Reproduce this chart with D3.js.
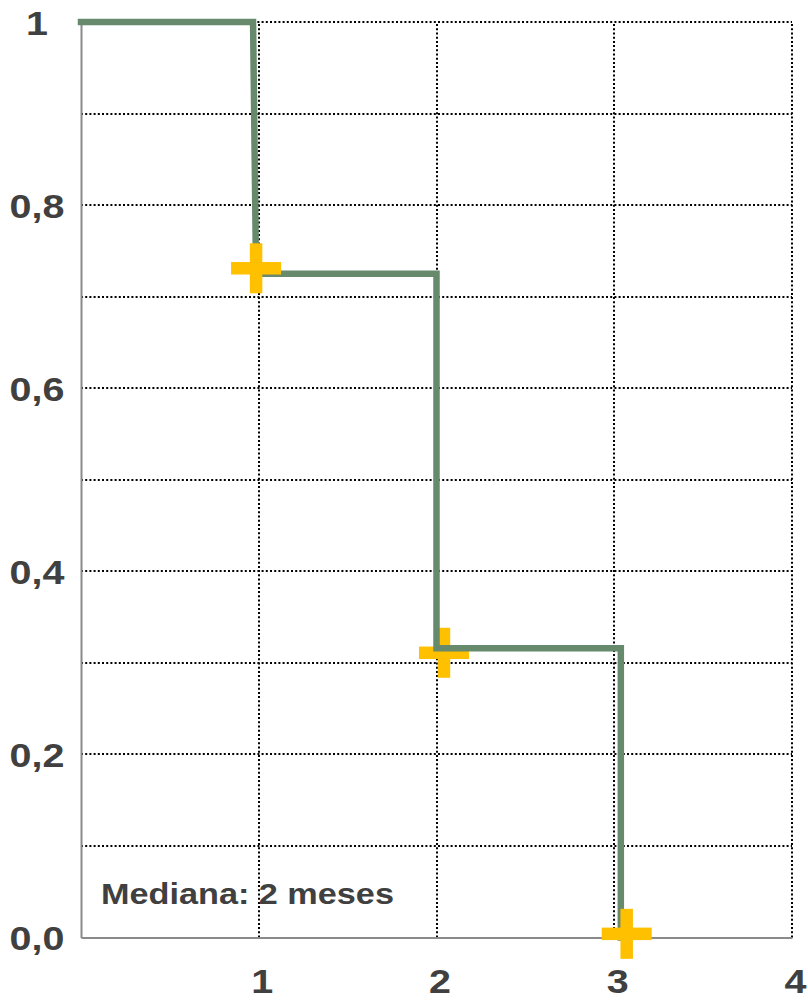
<!DOCTYPE html>
<html>
<head>
<meta charset="utf-8">
<script src="https://cdn.jsdelivr.net/npm/d3@7"></script>
<style>
  html, body { margin: 0; padding: 0; background: #fff; }
  svg { display: block; }
  text { font-family: "Liberation Sans", Arial, Helvetica, sans-serif; font-weight: 700; fill: #404040; }
</style>
</head>
<body>
<svg id="chart" width="808" height="1001"></svg>
<script>
// Kaplan–Meier step curve (time in months, survival probability)
const months   = [0, 0.968, 0.985, 2.0, 2.0, 3.037, 3.037];
const survival = [1, 1, 0.725, 0.725, 0.316, 0.316, 0];

// Censored observations
const censorMonths   = [0.985, 2.042, 3.07];
const censorSurvival = [0.731, 0.311, 0.004];

// Axis ticks and gridlines
const xTicks = [1, 2, 3, 4];
const yTicks = [0, 0.2, 0.4, 0.6, 0.8, 1];
const yTickLabels = ["0,0", "0,2", "0,4", "0,6", "0,8", "1"];
const yGrid = [0.1, 0.2, 0.3, 0.4, 0.5, 0.6, 0.7, 0.8, 0.9, 1.0];

const annotation = "Mediana: 2 meses";

const svg = d3.select("#chart");
const x = d3.scaleLinear().domain([0, 4]).range([81, 792]);
const y = d3.scaleLinear().domain([0, 1]).range([937.5, 22]);

const STRETCH = 1.16;
function widen(sel) {
  sel.each(function () {
    const w = this.getComputedTextLength();
    d3.select(this).attr("textLength", w * STRETCH).attr("lengthAdjust", "spacingAndGlyphs");
  });
}

// dotted grid (snapped to whole pixels so the dots stay crisp)
const grid = svg.append("g").attr("stroke", "#000").attr("stroke-width", 2)
  .attr("stroke-dasharray", "2,2.2");
grid.selectAll("line.h").data(yGrid).join("line").attr("class", "h")
  .attr("x1", x(0)).attr("x2", x(4))
  .attr("y1", d => Math.round(y(d))).attr("y2", d => Math.round(y(d)));
grid.selectAll("line.v").data(xTicks).join("line").attr("class", "v")
  .attr("x1", d => Math.round(x(d))).attr("x2", d => Math.round(x(d)))
  .attr("y1", y(0)).attr("y2", Math.round(y(1)));

// axes
const yAxis = svg.append("g").attr("transform", `translate(${x(0)},0)`)
  .call(d3.axisLeft(y).tickValues(yTicks).tickSize(0).tickSizeOuter(0)
    .tickFormat((d, i) => yTickLabels[i]));
const xAxis = svg.append("g").attr("transform", `translate(0,${y(0)})`)
  .call(d3.axisBottom(x).tickValues(xTicks).tickSize(0).tickSizeOuter(0)
    .tickFormat(d => String(d)));
[yAxis, xAxis].forEach(a => {
  a.select(".domain").attr("stroke", "#8a8a8a").attr("stroke-width", 2);
  a.selectAll("text").attr("font-size", 34).attr("fill", "#404040")
    .attr("font-family", null);
});
yAxis.selectAll("text").attr("text-anchor", "middle").attr("x", -44).attr("dy", "0.36em");
xAxis.selectAll("text").attr("y", 31).attr("dx", 3);
widen(yAxis.selectAll("text"));
widen(xAxis.selectAll("text"));

// censor marks drawn beneath the curve
const underCurve = new Set([1]);
const censor = d3.range(censorMonths.length).map(i => ({ t: censorMonths[i], s: censorSurvival[i], i }));
function drawCross(g, data) {
  const span = 50, th = 12.5;
  const m = g.selectAll("g").data(data).join("g")
    .attr("transform", d => `translate(${x(d.t)},${y(d.s)})`).attr("fill", "#FFC000");
  m.append("rect").attr("x", -span / 2).attr("y", -th / 2).attr("width", span).attr("height", th);
  m.append("rect").attr("x", -th / 2).attr("y", -span / 2).attr("width", th).attr("height", span);
}
drawCross(svg.append("g"), censor.filter(d => underCurve.has(d.i)));

// survival curve
const pts = months.map((t, i) => [t, survival[i]]);
svg.append("path").datum(pts)
  .attr("d", d3.line().x(d => x(d[0])).y(d => y(d[1])))
  .attr("fill", "none").attr("stroke", "#678a6d").attr("stroke-width", 6.5)
  .attr("stroke-linejoin", "miter").attr("stroke-linecap", "square");

drawCross(svg.append("g"), censor.filter(d => !underCurve.has(d.i)));

// median annotation
svg.append("text").attr("x", 101).attr("y", 903.5).attr("font-size", 29.5)
  .text(annotation).call(widen);
</script>
</body>
</html>
